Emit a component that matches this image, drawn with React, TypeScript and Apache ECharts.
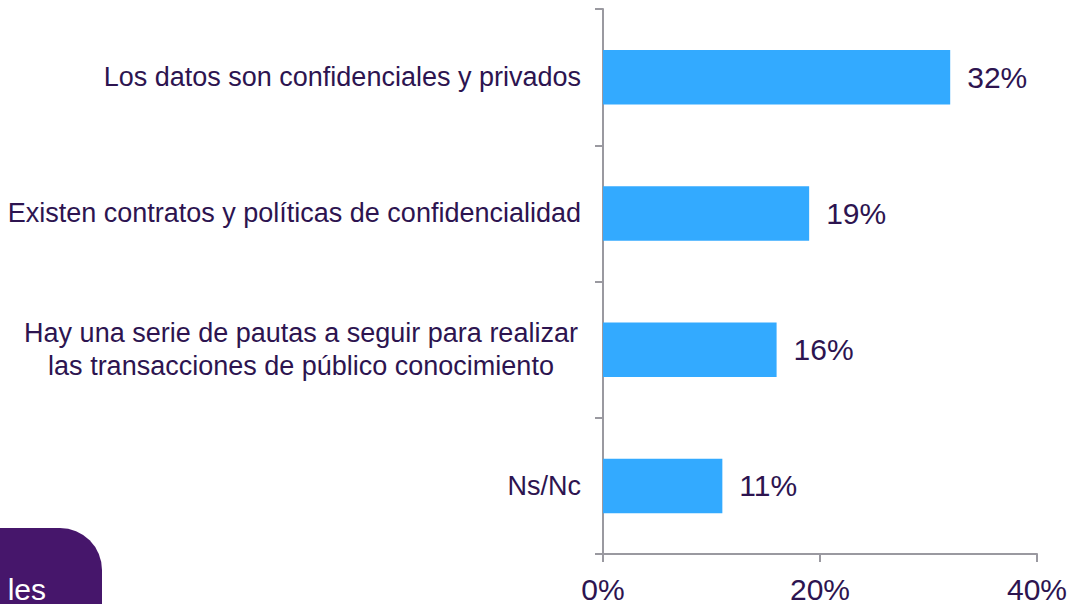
import React, { useEffect, useRef } from "react";
import * as echarts from "echarts";

const categories = [
  "Los datos son confidenciales y privados",
  "Existen contratos y políticas de confidencialidad",
  "Hay una serie de pautas a seguir para realizar\nlas transacciones de público conocimiento",
  "Ns/Nc",
];
const values = [32, 19, 16, 11];
const xTicks = [0, 20, 40];

const TEXT = "#2D1450";
const AXIS = "#9A99A0";
const BAR = "#33AAFF";
const FONT = "Liberation Sans, Arial, sans-serif";

export default function App() {
  const ref = useRef<HTMLDivElement>(null);
  useEffect(() => {
    if (!ref.current) return;
    const chart = echarts.init(ref.current, undefined, { renderer: "svg" });
    chart.setOption({
      animation: false,
      grid: { left: 603, right: 45, top: 9, bottom: 49, containLabel: false },
      xAxis: {
        type: "value",
        min: xTicks[0],
        max: xTicks[xTicks.length - 1],
        interval: 20,
        axisLine: { show: true, lineStyle: { color: AXIS, width: 2 } },
        axisTick: { show: true, length: 8, lineStyle: { color: AXIS, width: 2 } },
        splitLine: { show: false },
        axisLabel: {
          formatter: (v: number) => v + "%",
          color: TEXT,
          fontSize: 30,
          fontFamily: FONT,
          margin: 20,
        },
      },
      yAxis: {
        type: "category",
        inverse: true,
        data: categories,
        axisLine: { show: true, lineStyle: { color: AXIS, width: 2 } },
        axisTick: { show: true, length: 8, lineStyle: { color: AXIS, width: 2 } },
        axisLabel: {
          color: TEXT,
          fontSize: 27,
          fontFamily: FONT,
          margin: 22,
          lineHeight: 33,
          formatter: (v: string) => {
            if (v.indexOf("\n") >= 0) {
              return v
                .split("\n")
                .map((l) => "{c|" + l + "}")
                .join("\n");
            }
            return v;
          },
          rich: {
            c: {
              width: 560,
              align: "center",
              color: TEXT,
              fontSize: 27,
              fontFamily: FONT,
              lineHeight: 33,
            },
          },
        },
      },
      series: [
        {
          type: "bar",
          data: values,
          barCategoryGap: "60%",
          itemStyle: { color: BAR },
          label: {
            show: true,
            position: "right",
            distance: 17,
            formatter: (p: any) => p.value + "%",
            color: TEXT,
            fontSize: 30,
            fontFamily: FONT,
          },
        },
      ],
      graphic: [
        {
          type: "rect",
          shape: { x: -80, y: 528, width: 182, height: 140, r: 42 },
          style: { fill: "#46166B" },
          z: 10,
        },
        {
          type: "text",
          x: 46,
          y: 589,
          z: 11,
          style: {
            text: "les",
            fill: "#ffffff",
            fontSize: 30,
            fontFamily: FONT,
            align: "right",
            verticalAlign: "middle",
          },
        },
      ],
    });
    return () => chart.dispose();
  }, []);
  return (
    <div
      ref={ref}
      style={{ position: "fixed", left: 0, top: 0, width: 1082, height: 604, background: "#fff" }}
    />
  );
}
